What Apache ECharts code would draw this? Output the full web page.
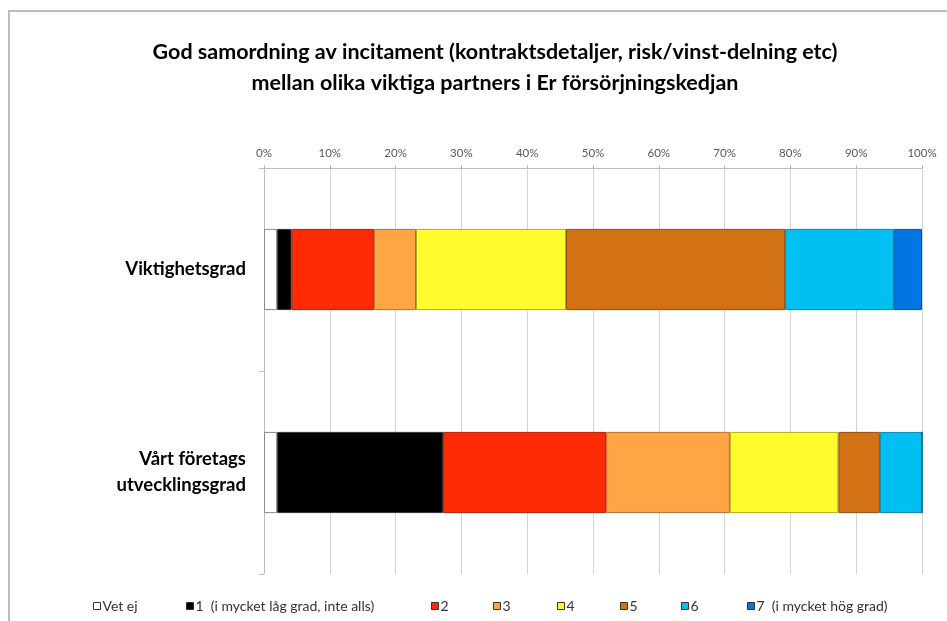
<!DOCTYPE html>
<html>
<head>
<meta charset="utf-8">
<script src="https://cdn.jsdelivr.net/npm/echarts@6/dist/echarts.min.js"></script>
<style>
  html, body { margin: 0; padding: 0; background: #fff; }
  #chart { width: 947px; height: 621px; }
</style>
</head>
<body>
<div id="chart"></div>
<script>
// Survey answers, share of respondents (%) per rating
const categories = ['Viktighetsgrad', 'Vårt företags\nutvecklingsgrad'];
const seriesNames = ['Vet ej', '1  (i mycket låg grad, inte alls)', '2', '3', '4', '5', '6', '7  (i mycket hög grad)'];
const vetEj  = [2.0, 2.0];
const grad1  = [2.2, 25.2];
const grad2  = [12.5, 24.8];
const grad3  = [6.4, 18.8];
const grad4  = [22.8, 16.5];
const grad5  = [33.3, 6.3];
const grad6  = [16.5, 6.4];
const grad7  = [4.3, 0];
const xTicks = [0, 10, 20, 30, 40, 50, 60, 70, 80, 90, 100];

const values = [vetEj, grad1, grad2, grad3, grad4, grad5, grad6, grad7];
const colors = ['#ffffff', '#000000', '#ff2b06', '#ffa545', '#fffc2e', '#d37215', '#00bff2', '#0077e0'];
const borders = ['#888888', '#333333', '#b01e04', '#b07030', '#b0ad20', '#8f4e0e', '#0a84a8', '#0a4f96'];
const legendX = [88, 181, 426, 488, 552, 615, 676, 742];

const chart = echarts.init(document.getElementById('chart'));

const font = 'Lato, "Open Sans", sans-serif';

chart.setOption({
  animation: false,
  backgroundColor: '#ffffff',
  textStyle: { fontFamily: font },
  title: {
    text: 'God samordning av incitament (kontraktsdetaljer, risk/vinst-delning etc)\nmellan olika viktiga partners i Er försörjningskedjan',
    left: 490,
    top: 32,
    textAlign: 'center',
    textStyle: { fontFamily: font, fontSize: 21.5, fontWeight: 'bold', color: '#000', lineHeight: 31 }
  },
  graphic: [{
    type: 'rect',
    shape: { x: 9, y: 11, width: 1000, height: 700 },
    style: { fill: 'none', stroke: '#bdbdbd', lineWidth: 2 },
    silent: true
  }],
  legend: seriesNames.map((name, i) => ({
    data: [name],
    left: legendX[i],
    top: 594,
    icon: 'rect',
    itemWidth: 7,
    itemHeight: 7,
    itemGap: 0,
    selectedMode: false,
    itemStyle: { borderColor: '#333', borderWidth: 1 },
    textStyle: { fontFamily: font, fontSize: 14, color: '#333', padding: [0, 0, 0, -3] }
  })),
  grid: { left: 264, right: 25, top: 168, bottom: 47, containLabel: false },
  xAxis: {
    type: 'value',
    position: 'top',
    min: 0,
    max: 100,
    interval: 10,
    data: xTicks,
    axisLine: { show: true, lineStyle: { color: '#bdbdbd' } },
    axisTick: { show: true, length: 3, lineStyle: { color: '#bdbdbd' } },
    splitLine: { show: true, lineStyle: { color: '#d4d4d4' } },
    axisLabel: { formatter: '{value}%', color: '#595959', fontSize: 11.5, margin: 9, fontFamily: font }
  },
  yAxis: {
    type: 'category',
    inverse: true,
    data: categories,
    axisLine: { show: true, lineStyle: { color: '#bdbdbd' } },
    axisTick: { show: true, length: 5, lineStyle: { color: '#bdbdbd' } },
    axisLabel: { color: '#000', fontSize: 18.5, fontWeight: 'bold', margin: 18, lineHeight: 26, fontFamily: font, align: 'right' }
  },
  series: seriesNames.map((name, i) => ({
    name: name,
    type: 'bar',
    stack: 'total',
    barWidth: '40%',
    data: values[i],
    itemStyle: { color: colors[i], borderColor: borders[i], borderWidth: 1 },
    emphasis: { disabled: true }
  }))
});
</script>
</body>
</html>
